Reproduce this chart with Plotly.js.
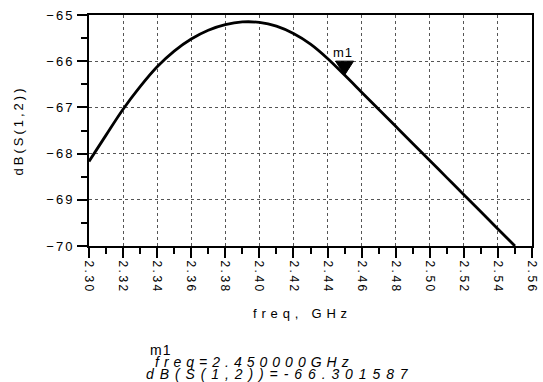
<!DOCTYPE html>
<html>
<head>
<meta charset="utf-8">
<script src="https://cdn.plot.ly/plotly-3.0.1.min.js"></script>
<style>
html,body{margin:0;padding:0;background:#fff;}
#chart{width:543px;height:382px;}
</style>
</head>
<body>
<div id="chart"></div>
<script>
// ---- data ----
const freqGHz = [2.30, 2.31, 2.32, 2.33, 2.34, 2.35, 2.36, 2.37, 2.38, 2.39,
                 2.40, 2.41, 2.42, 2.43, 2.44, 2.45, 2.46, 2.47, 2.48, 2.49,
                 2.50, 2.51, 2.52, 2.53, 2.54, 2.55];
const dbS12 = [-68.17, -67.60, -67.04, -66.55, -66.12, -65.78, -65.52, -65.33, -65.21, -65.15,
               -65.16, -65.24, -65.40, -65.63, -65.94, -66.30, -66.67, -67.04, -67.41, -67.78,
               -68.15, -68.52, -68.89, -69.26, -69.63, -70.00];
const xTickVals = [2.30, 2.32, 2.34, 2.36, 2.38, 2.40, 2.42, 2.44, 2.46, 2.48, 2.50, 2.52, 2.54, 2.56];
const xTickText = ['2.30', '2.32', '2.34', '2.36', '2.38', '2.40', '2.42', '2.44', '2.46', '2.48', '2.50', '2.52', '2.54', '2.56'];
const yTickVals = [-70, -69, -68, -67, -66, -65];
const yTickText = ['\u221270', '\u221269', '\u221268', '\u221267', '\u221266', '\u221265'];
const markerName = 'm1';
const markerFreq = 2.45;
const markerValue = -66.301587;

// ---- chart ----
const FONT = 'Liberation Sans, Arial, sans-serif';
const LS_FREQ = 5.0;   // letter spacing of the readout freq line
const LS_VAL = 5.9;    // letter spacing of the readout value line
const LS_M = 1;        // letter spacing of the marker name

const readFreq = 'freq=' + markerFreq.toFixed(6) + 'GHz';
const readVal = 'dB(S(1,2))=' + markerValue.toFixed(6);

const trace = {
  x: freqGHz, y: dbS12, type: 'scatter', mode: 'lines',
  line: {color: '#000', width: 2.8, shape: 'spline', smoothing: 1},
  hoverinfo: 'skip', showlegend: false
};

const layout = {
  width: 543, height: 382,
  margin: {l: 89, r: 11, t: 15, b: 136},
  paper_bgcolor: '#fff', plot_bgcolor: '#fff',
  font: {family: FONT, color: '#000', size: 12},
  showlegend: false,
  xaxis: {
    range: [2.30, 2.56], tickmode: 'array', tickvals: xTickVals, ticktext: xTickText,
    tickangle: 90, ticks: 'outside', ticklen: 10, tickwidth: 2, tickcolor: '#000',
    tickfont: {family: FONT, size: 12, color: '#000'},
    showline: true, linewidth: 2, linecolor: '#000', mirror: true,
    showgrid: true, gridcolor: '#555', gridwidth: 1, griddash: 'dot',
    zeroline: false, automargin: false,
    minor: {tickmode: 'linear', tick0: 2.30, dtick: 0.01, ticks: 'outside', ticklen: 6, tickwidth: 2, tickcolor: '#000', showgrid: false},
    title: {text: 'freq, GHz', font: {family: FONT, size: 13, color: '#000'}, standoff: 26}
  },
  yaxis: {
    range: [-70, -65], tickmode: 'array', tickvals: yTickVals, ticktext: yTickText,
    ticks: 'outside', ticklen: 10, tickwidth: 2, tickcolor: '#000',
    tickfont: {family: FONT, size: 13, color: '#000'},
    showline: true, linewidth: 2, linecolor: '#000', mirror: true,
    showgrid: true, gridcolor: '#555', gridwidth: 1, griddash: 'dot',
    zeroline: false, automargin: false,
    minor: {tickmode: 'linear', tick0: -70, dtick: 0.5, ticks: 'outside', ticklen: 6, tickwidth: 2, tickcolor: '#000', showgrid: false},
    title: {text: 'dB(S(1,2))', font: {family: FONT, size: 13, color: '#000'}, standoff: 26}
  },
  shapes: [{
    type: 'path', xref: 'x', yref: 'y',
    xsizemode: 'pixel', ysizemode: 'pixel',
    xanchor: markerFreq, yanchor: markerValue,
    path: 'M-9,14 L9,14 L0,0 Z',
    fillcolor: '#000', line: {color: '#000', width: 1}
  }],
  annotations: [
    {x: markerFreq, y: markerValue, xref: 'x', yref: 'y', text: markerName, showarrow: false,
     xanchor: 'center', yanchor: 'bottom', yshift: 13, xshift: -2,
     font: {family: FONT, size: 13, color: '#000'}},
    {x: 0.133, y: -0.452, xref: 'paper', yref: 'paper', text: markerName, showarrow: false,
     xanchor: 'left', yanchor: 'middle', xshift: markerName.length * LS_M / 2,
     font: {family: FONT, size: 14, color: '#000'}},
    {x: 0.144, y: -0.502, xref: 'paper', yref: 'paper', text: readFreq, showarrow: false,
     xanchor: 'left', yanchor: 'middle', xshift: readFreq.length * LS_FREQ / 2,
     font: {family: FONT, size: 14, color: '#000', style: 'italic'}},
    {x: 0.124, y: -0.552, xref: 'paper', yref: 'paper', text: readVal, showarrow: false,
     xanchor: 'left', yanchor: 'middle', xshift: readVal.length * LS_VAL / 2,
     font: {family: FONT, size: 14, color: '#000', style: 'italic'}}
  ]
};

Plotly.newPlot('chart', [trace], layout, {staticPlot: true, displayModeBar: false}).then(function (gd) {
  const sp = function (sel, v) {
    gd.querySelectorAll(sel).forEach(function (t) { t.style.letterSpacing = v; });
  };
  sp('.xtick text', '2.5px');
  sp('.ytick text', '2px');
  sp('.g-xtitle text', '4.8px');
  sp('.g-ytitle text', '3px');
  const ann = gd.querySelectorAll('.annotation-text');
  const spacing = [LS_M, LS_M, LS_FREQ, LS_VAL];
  ann.forEach(function (t, i) {
    t.style.letterSpacing = spacing[i] + 'px';
  });
  const xt = gd.querySelector('.g-xtitle text');
  if (xt) { xt.setAttribute('x', (parseFloat(xt.getAttribute('x')) - 8).toString()); }
});
</script>
</body>
</html>
